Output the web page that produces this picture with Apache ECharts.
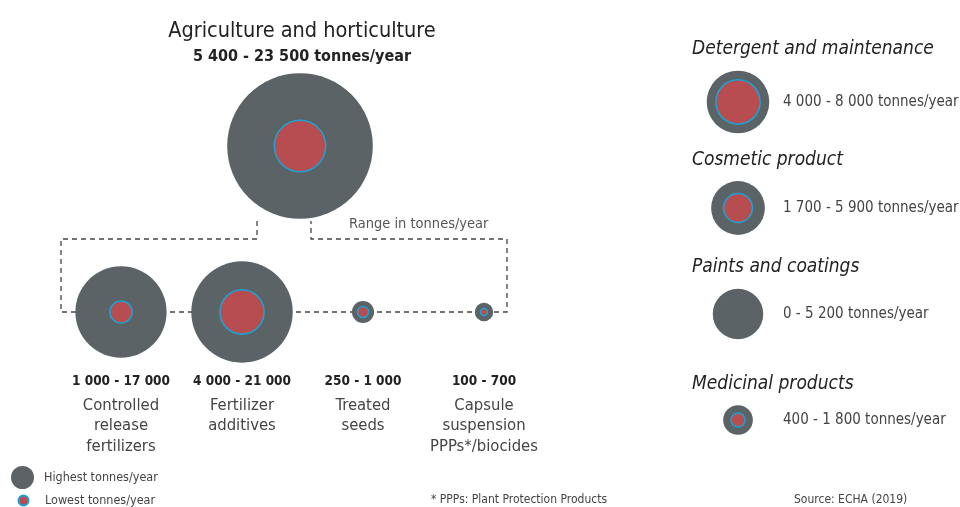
<!DOCTYPE html>
<html>
<head>
    <meta charset='utf-8'>
    <script src='https://cdn.jsdelivr.net/npm/echarts@6/dist/echarts.min.js'></script>
    <style>
        html, body, #main {
            width: 100%;
            height: 100%;
            margin: 0;
            background: #fff;
        }
    </style>
</head>
<body>
<div id='main'></div>
<script>
    // hero: agriculture and horticulture (total)
    var heroName = 'Agriculture and horticulture';
    var heroLow = 5400;
    var heroHigh = 23500;

    // sub-uses of agriculture
    var rowNames = ['Controlled\nrelease\nfertilizers', 'Fertilizer\nadditives', 'Treated\nseeds', 'Capsule\nsuspension\nPPPs*/biocides'];
    var rowLow = [1000, 4000, 250, 100];
    var rowHigh = [17000, 21000, 1000, 700];

    // other sectors
    var sideNames = ['Detergent and maintenance', 'Cosmetic product', 'Paints and coatings', 'Medicinal products'];
    var sideLow = [4000, 1700, 0, 400];
    var sideHigh = [8000, 5900, 5200, 1800];

    var FONT = '"DejaVu Sans Condensed", "Liberation Sans Narrow", Roboto, sans-serif';
    var GREY = '#5c6366';
    var RED = '#b84d51';
    var CYAN = '#1ba3d3';
    var K = 0.70;       // diameter = K * sqrt(tonnes)
    var HERO_K = 0.95;  // hero circle is drawn on a bigger scale

    function fmt(v) {
        return String(v).replace(/\B(?=(\d{3})+(?!\d))/g, ' ');
    }
    function range(lo, hi) {
        return fmt(lo) + ' - ' + fmt(hi);
    }
    function sizeOf(val) {
        return val[2] > 0 ? K * Math.sqrt(val[2]) : 0;
    }

    var outerStyle = { color: GREY, opacity: 1 };
    var innerStyle = { color: RED, borderColor: CYAN, borderWidth: 1.5, opacity: 1 };

    var myChart = echarts.init(document.getElementById('main'));
    myChart.setOption({
        animation: false,
        textStyle: { fontFamily: FONT },
        title: [
            {
                text: heroName,
                subtext: range(heroLow, heroHigh) + ' tonnes/year',
                left: 302,
                top: 20,
                padding: 0,
                textAlign: 'center',
                itemGap: 7,
                textStyle: { fontSize: 21.5, fontWeight: 500, color: '#222' },
                subtextStyle: { fontSize: 16, fontWeight: 'bold', color: '#222' }
            },
            {
                text: 'Range in tonnes/year',
                left: 349, top: 217, padding: 0,
                textStyle: { fontSize: 14.5, fontWeight: 'normal', color: '#555' }
            },
            {
                text: '* PPPs: Plant Protection Products',
                left: 431, top: 494, padding: 0,
                textStyle: { fontSize: 12, fontWeight: 'normal', color: '#444' }
            },
            {
                text: 'Source: ECHA (2019)',
                left: 794, top: 494, padding: 0,
                textStyle: { fontSize: 12, fontWeight: 'normal', color: '#444' }
            }
        ],
        legend: [
            {
                data: ['Highest tonnes/year'],
                left: 11, top: 466, padding: 0,
                icon: 'circle',
                itemWidth: 23, itemHeight: 23,
                selectedMode: false,
                textStyle: { fontSize: 12.5, color: '#444', padding: [0, 0, 0, 5] }
            },
            {
                data: ['Lowest tonnes/year'],
                left: 17.5, top: 494, padding: 0,
                icon: 'circle',
                itemWidth: 10, itemHeight: 10,
                selectedMode: false,
                textStyle: { fontSize: 12.5, color: '#444', padding: [0, 0, 0, 11.5] }
            }
        ],
        grid: [
            { left: 250, top: 96, width: 100, height: 100, outerBoundsMode: 'none' },
            { left: 60.5, top: 262, width: 484, height: 100, outerBoundsMode: 'none' },
            { left: 698, top: 49, width: 80, height: 424, outerBoundsMode: 'none' }
        ],
        xAxis: [
            { gridIndex: 0, type: 'category', data: [heroName], show: false },
            {
                gridIndex: 1, type: 'category', data: rowNames,
                axisLine: { show: false }, axisTick: { show: false },
                axisLabel: {
                    margin: 5,
                    interval: 0,
                    formatter: function (value, i) {
                        var lines = value.split('\n').map(function (l) { return '{b|' + l + '}'; });
                        return '{a|' + range(rowLow[i], rowHigh[i]) + '}\n' + lines.join('\n');
                    },
                    rich: {
                        a: { fontSize: 13.5, fontWeight: 'bold', color: '#222', lineHeight: 28 },
                        b: { fontSize: 16.5, color: '#444', lineHeight: 20.5 }
                    }
                }
            },
            { gridIndex: 2, type: 'value', min: -1, max: 1, show: false }
        ],
        yAxis: [
            { gridIndex: 0, type: 'value', min: -1, max: 1, show: false },
            { gridIndex: 1, type: 'value', min: -1, max: 1, show: false },
            {
                gridIndex: 2, type: 'category', data: sideNames, inverse: true, position: 'right',
                axisLine: { show: false }, axisTick: { show: false }, splitLine: { show: false },
                axisLabel: {
                    margin: 5,
                    fontSize: 15,
                    color: '#444',
                    formatter: function (value, i) {
                        return range(sideLow[i], sideHigh[i]) + ' tonnes/year';
                    }
                }
            }
        ],
        graphic: [
            {
                type: 'polyline',
                z: 0,
                shape: { points: [[257, 221], [257, 239], [61, 239], [61, 312], [507, 312], [507, 239], [311, 239], [311, 221]] },
                style: { stroke: '#444', lineWidth: 1.3, lineDash: [5, 4], fill: null }
            }
        ],
        series: [
            {
                name: 'Highest tonnes/year', type: 'scatter', xAxisIndex: 0, yAxisIndex: 0,
                data: [[heroName, 0, heroHigh]],
                symbolSize: function (val) { return HERO_K * Math.sqrt(val[2]); },
                itemStyle: outerStyle, z: 2
            },
            {
                name: 'Lowest tonnes/year', type: 'scatter', xAxisIndex: 0, yAxisIndex: 0,
                data: [[heroName, 0, heroLow]],
                symbolSize: sizeOf,
                itemStyle: innerStyle, z: 3
            },
            {
                name: 'Highest tonnes/year', type: 'scatter', xAxisIndex: 1, yAxisIndex: 1,
                data: rowHigh.map(function (v, i) { return [i, 0, v]; }),
                symbolSize: sizeOf,
                itemStyle: outerStyle, z: 2
            },
            {
                name: 'Lowest tonnes/year', type: 'scatter', xAxisIndex: 1, yAxisIndex: 1,
                data: rowLow.map(function (v, i) { return [i, 0, v]; }),
                symbolSize: sizeOf,
                itemStyle: innerStyle, z: 3
            },
            {
                name: 'Highest tonnes/year', type: 'scatter', xAxisIndex: 2, yAxisIndex: 2,
                data: sideHigh.map(function (v, i) { return [0, i, v]; }),
                symbolSize: sizeOf,
                itemStyle: outerStyle, z: 2,
                label: {
                    show: true,
                    position: 'top',
                    distance: 12,
                    align: 'left',
                    offset: [-46, 0],
                    fontSize: 19,
                    fontStyle: 'italic',
                    color: '#222',
                    formatter: function (p) { return sideNames[p.dataIndex]; }
                }
            },
            {
                name: 'Lowest tonnes/year', type: 'scatter', xAxisIndex: 2, yAxisIndex: 2,
                data: sideLow.map(function (v, i) { return v > 0 ? [0, i, v] : [0, i, '-']; }),
                symbolSize: sizeOf,
                itemStyle: innerStyle, z: 3
            }
        ]
    });
</script>
</body>
</html>
